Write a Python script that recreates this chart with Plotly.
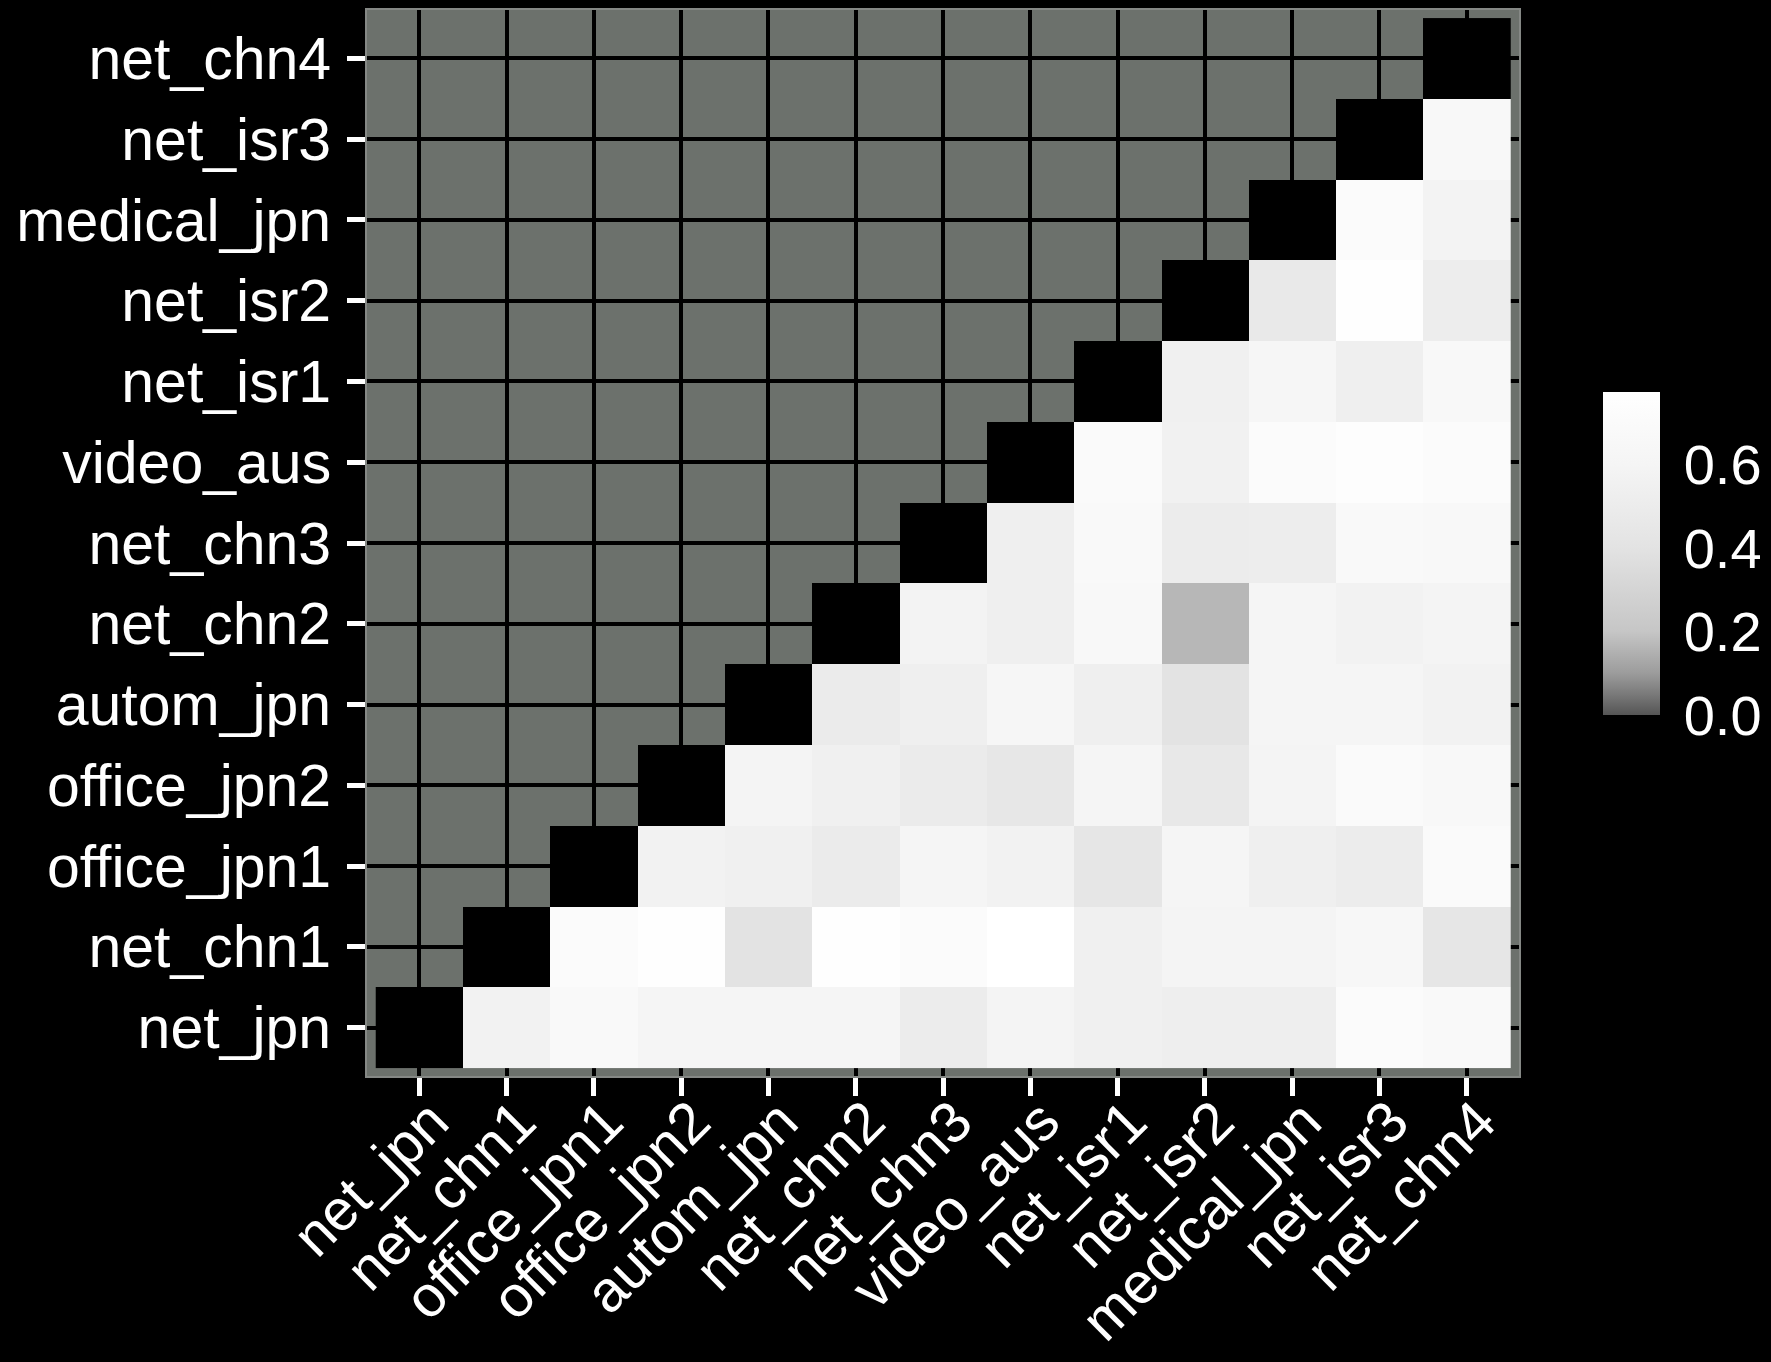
import numpy as np
import plotly.graph_objects as go

# Category order (bottom-to-top on y, left-to-right on x)
categories = [
    "net_jpn", "net_chn1", "office_jpn1", "office_jpn2", "autom_jpn",
    "net_chn2", "net_chn3", "video_aus", "net_isr1", "net_isr2",
    "medical_jpn", "net_isr3", "net_chn4",
]

# Pairwise similarity, one list per row: values for the columns to the right of the diagonal
row_net_jpn = [0.567, 0.669, 0.600, 0.600, 0.600, 0.500, 0.589, 0.544, 0.522, 0.522, 0.703, 0.669]
row_net_chn1 = [0.703, 0.755, 0.400, 0.755, 0.703, 0.772, 0.544, 0.589, 0.589, 0.634, 0.433]
row_office_jpn1 = [0.567, 0.544, 0.489, 0.600, 0.567, 0.433, 0.600, 0.533, 0.500, 0.686]
row_office_jpn2 = [0.589, 0.544, 0.489, 0.444, 0.600, 0.456, 0.589, 0.686, 0.652]
row_autom_jpn = [0.489, 0.533, 0.617, 0.533, 0.400, 0.600, 0.600, 0.567]
row_net_chn2 = [0.578, 0.533, 0.652, 0.164, 0.600, 0.567, 0.589]
row_net_chn3 = [0.533, 0.669, 0.500, 0.511, 0.669, 0.652]
row_video_aus = [0.686, 0.555, 0.703, 0.738, 0.703]
row_net_isr1 = [0.544, 0.617, 0.533, 0.652]
row_net_isr2 = [0.467, 0.755, 0.511]
row_medical_jpn = [0.703, 0.578]
row_net_isr3 = [0.652]

upper_rows = [
    row_net_jpn, row_net_chn1, row_office_jpn1, row_office_jpn2, row_autom_jpn,
    row_net_chn2, row_net_chn3, row_video_aus, row_net_isr1, row_net_isr2,
    row_medical_jpn, row_net_isr3, [],
]

colorbar_ticks = [0.0, 0.2, 0.4, 0.6]

n = len(categories)
z = np.full((n, n), np.nan)
for i, vals in enumerate(upper_rows):
    for k, v in enumerate(vals):
        z[i, i + 1 + k] = v

# Diagonal (self-comparison) cells shown in solid black
diag = np.full((n, n), np.nan)
for i in range(n):
    diag[i, i] = 1.0

zmax = float(np.nanmax(z))

def stop(v, c):
    return [v / zmax, c]

grey_scale = [
    stop(0.0, "#555555"),
    stop(0.05, "#7a7a7a"),
    stop(0.1, "#9c9c9c"),
    stop(0.2, "#c6c6c6"),
    stop(0.4, "#e3e3e3"),
    stop(0.6, "#f5f5f5"),
    [1.0, "#ffffff"],
]

FONT = "Liberation Sans, Arial, sans-serif"

fig = go.Figure()

fig.add_trace(go.Heatmap(
    z=z, x=categories, y=categories,
    zmin=0.0, zmax=zmax,
    colorscale=grey_scale,
    hoverongaps=False,
    colorbar=dict(
        thickness=57, thicknessmode="pixels",
        len=0.303, lenmode="fraction",
        x=1.0727, xanchor="left", xpad=0,
        y=0.4898, yanchor="middle", ypad=0,
        outlinewidth=0,
        tickvals=colorbar_ticks,
        ticktext=[f"{t:.1f}" for t in colorbar_ticks],
        ticks="outside", ticklen=13, tickcolor="black",
        tickfont=dict(family=FONT, size=56, color="white"),
    ),
))

fig.add_trace(go.Heatmap(
    z=diag, x=categories, y=categories,
    colorscale=[[0, "black"], [1, "black"]],
    showscale=False, hoverongaps=False,
))

axis_common = dict(
    type="category",
    range=[-0.6, n - 1 + 0.6],
    automargin=False,
    showgrid=True, gridcolor="black", gridwidth=4,
    ticks="outside", ticklen=18, tickwidth=5, tickcolor="white",
    tickfont=dict(family=FONT, size=59, color="white"),
    showline=True, linecolor="#858885", linewidth=2, mirror=True,
    zeroline=False,
)

fig.update_layout(
    width=1771, height=1362,
    margin=dict(l=367, r=252, t=10, b=286, autoexpand=False),
    paper_bgcolor="black",
    plot_bgcolor="#6c716c",
    xaxis=dict(axis_common, tickangle=-45, ticklabelstandoff=-32, ticklabelshift=12,
               tickfont=dict(family=FONT, size=58, color="white")),
    yaxis=dict(axis_common, ticklabelstandoff=4),
    showlegend=False,
)

fig.write_html("out.html")
